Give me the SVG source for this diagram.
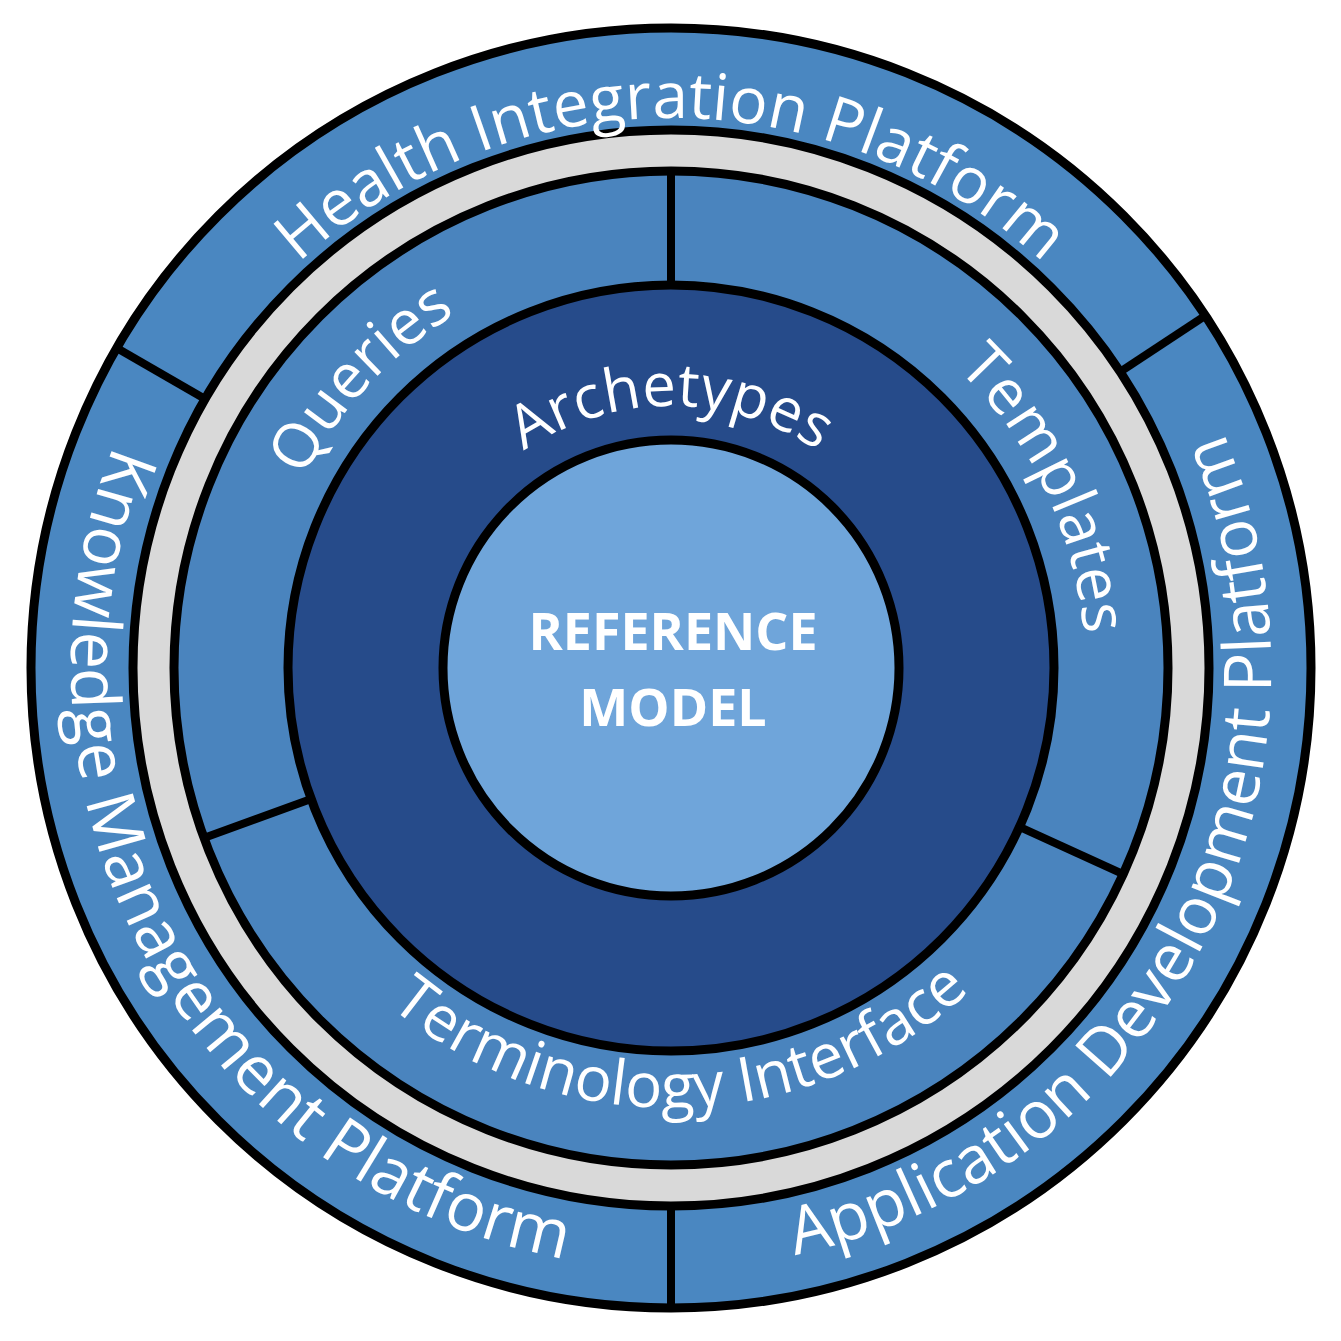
<svg xmlns="http://www.w3.org/2000/svg" width="1341" height="1341" viewBox="0 0 1341 1341">
<style>
.ring{stroke:#000;stroke-width:9}
.div{stroke:#000;stroke-width:8}
.lbl{font-family:"Open Sans","Liberation Sans",sans-serif;fill:#fff}
</style>
<defs>
<path id="pH" d="M575.5,1209.6 A550,550 0 1 1 766.5,1209.6"/>
<path id="pK" d="M1137.3,290.4 A600,600 0 1 0 1238.3,472.6"/>
<path id="pA" d="M98.8,487.6 A600,600 0 1 0 195,302.7"/>
<path id="pQ" d="M920.1,998.6 A414,414 0 1 1 1018.2,893.5"/>
<path id="pT" d="M272.1,778.6 A414,414 0 1 1 334,908.4"/>
<path id="pI" d="M583.3,236.8 A440,440 0 1 0 736,232.8"/>
<path id="pR" d="M625.5,926 A262,262 0 1 1 716.5,926"/>
</defs>
<g id="rings">
<circle class="ring" cx="671" cy="668" r="640" fill="#4a87c1" stroke-width="11"/>
<circle class="ring" cx="671" cy="668" r="538" fill="#d9d9d9"/>
<circle class="ring" cx="671" cy="668" r="497" fill="#4a84be"/>
<circle class="ring" cx="671" cy="668" r="383" fill="#264b8a"/>
<circle class="ring" cx="671" cy="668" r="228" fill="#6fa5da"/>
</g>
<g id="connectors">
<line class="div" x1="205.1" y1="399" x2="115" y2="347"/>
<line class="div" x1="1120.1" y1="371.8" x2="1206.9" y2="314.6"/>
<line class="div" x1="671" y1="1206" x2="671" y2="1310"/>
<line class="div" x1="671" y1="285" x2="671" y2="173"/>
<line class="div" x1="311.1" y1="799" x2="205.8" y2="837.3"/>
<line class="div" x1="1019.5" y1="826.8" x2="1121.5" y2="873.3"/>
</g>
<g id="health"><text class="lbl" font-size="64" text-anchor="middle"><textPath href="#pH" startOffset="50%">Health Integration Platform</textPath></text></g>
<g id="knowledge"><text class="lbl" font-size="67" text-anchor="middle"><textPath href="#pK" startOffset="50%">Knowledge Management Platform</textPath></text></g>
<g id="application"><text class="lbl" font-size="66" text-anchor="middle"><textPath href="#pA" startOffset="50%">Application Development Platform</textPath></text></g>
<g id="queries"><text class="lbl" font-size="62" text-anchor="middle"><textPath href="#pQ" startOffset="50%">Queries</textPath></text></g>
<g id="templates"><text class="lbl" font-size="62" text-anchor="middle"><textPath href="#pT" startOffset="50%">Templates</textPath></text></g>
<g id="terminology"><text class="lbl" font-size="62" text-anchor="middle"><textPath href="#pI" startOffset="50%">Terminology Interface</textPath></text></g>
<g id="archetypes"><text class="lbl" font-size="60" text-anchor="middle"><textPath href="#pR" startOffset="50%">Archetypes</textPath></text></g>
<g id="reference">
<text class="lbl" font-size="52" font-weight="bold" text-anchor="middle" x="673" y="650">REFERENCE</text>
<text class="lbl" font-size="52" font-weight="bold" text-anchor="middle" x="673" y="726">MODEL</text>
</g>
</svg>
